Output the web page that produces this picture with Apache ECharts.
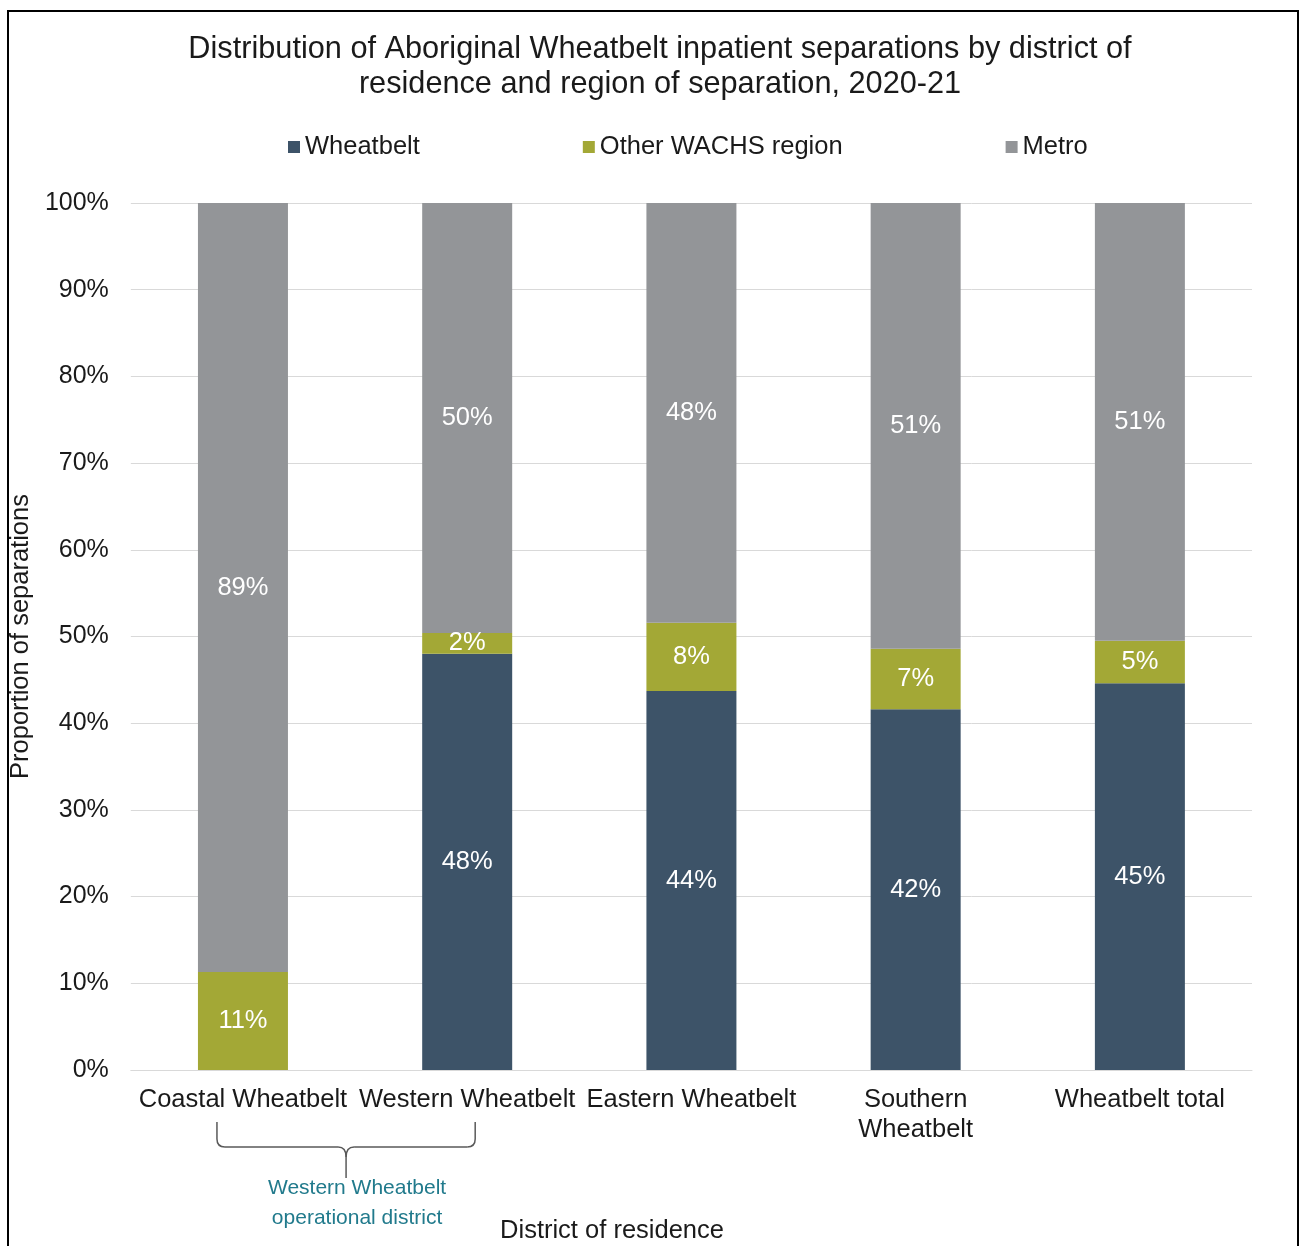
<!DOCTYPE html>
<html>
<head>
<meta charset="utf-8">
<script src="https://cdn.jsdelivr.net/npm/echarts@6/dist/echarts.min.js"></script>
<style>
  html, body { margin: 0; padding: 0; background: #fff; }
  #chart { width: 1305px; height: 1246px; }
</style>
</head>
<body>
<div id="chart"></div>
<script>
// district of residence
var categories = ['Coastal Wheatbelt', 'Western Wheatbelt', 'Eastern Wheatbelt', 'Southern\nWheatbelt', 'Wheatbelt total'];
// share of separations (%) by region of separation
var wheatbelt = [0, 48.0, 43.7, 41.6, 44.6];
var otherWachs = [11.3, 2.4, 7.9, 7.0, 4.9];
var metro = [88.7, 49.6, 48.4, 51.4, 50.5];
var yTicks = [0, 10, 20, 30, 40, 50, 60, 70, 80, 90, 100];

var font = 'Liberation Sans, Arial, sans-serif';
var fs = 25.5;

var chart = echarts.init(document.getElementById('chart'));

function seg(name, data, color) {
  return {
    name: name,
    type: 'bar',
    stack: 'total',
    barWidth: 90,
    data: data,
    itemStyle: { color: color },
    label: {
      show: true,
      position: 'inside',
      color: '#fff',
      fontFamily: font,
      fontSize: fs,
      formatter: function (p) {
        return p.value > 0 ? Math.round(p.value) + '%' : '';
      }
    }
  };
}

var option = {
  animation: false,
  title: {
    text: 'Distribution of Aboriginal Wheatbelt inpatient separations by district of\nresidence and region of separation, 2020-21',
    left: 655,
    textAlign: 'center',
    top: 27,
    textStyle: { fontFamily: font, fontSize: 30.7, fontWeight: 'normal', color: '#1a1a1a', lineHeight: 35 }
  },
  legend: {
    left: 283,
    top: 129,
    itemWidth: 12,
    itemHeight: 12,
    itemGap: 163,
    icon: 'rect',
    textStyle: { fontFamily: font, fontSize: fs, color: '#1a1a1a' },
    data: ['Wheatbelt', 'Other WACHS region', 'Metro']
  },
  grid: { left: 130, right: 53, top: 203, bottom: 176 },
  xAxis: {
    type: 'category',
    data: categories,
    axisTick: { show: false },
    axisLine: { lineStyle: { color: '#d9d9d9' } },
    axisLabel: { fontFamily: font, fontSize: fs, color: '#1a1a1a', margin: 15, lineHeight: 30, interval: 0 }
  },
  yAxis: {
    type: 'value',
    min: yTicks[0],
    max: yTicks[yTicks.length - 1],
    interval: 10,
    name: 'Proportion of separations',
    nameLocation: 'middle',
    nameRotate: 90,
    nameGap: 96,
    nameTextStyle: { fontFamily: font, fontSize: fs, color: '#1a1a1a' },
    axisLabel: { fontFamily: font, fontSize: 25, color: '#1a1a1a', margin: 22, formatter: '{value}%' },
    splitLine: { lineStyle: { color: '#d9d9d9' } }
  },
  series: [
    seg('Wheatbelt', wheatbelt, '#3d5368'),
    seg('Other WACHS region', otherWachs, '#a3a836'),
    seg('Metro', metro, '#939598')
  ]
};

chart.setOption(option);

// brace under the first two districts
var x0 = chart.convertToPixel({ xAxisIndex: 0 }, 0);
var x1 = chart.convertToPixel({ xAxisIndex: 0 }, 1);
var bl = x0 - 26, br = x1 + 8, mid = (bl + br) / 2;
var yt = 1122, yh = 1147, yp = 1178, r = 8;
var braceStyle = { fill: 'none', stroke: '#595959', lineWidth: 1.5 };

function ln(xa, ya, xb, yb) {
  return { type: 'line', shape: { x1: xa, y1: ya, x2: xb, y2: yb }, style: braceStyle, silent: true };
}
function qc(xa, ya, cx, cy, xb, yb) {
  return { type: 'bezierCurve', shape: { x1: xa, y1: ya, cpx1: cx, cpy1: cy, x2: xb, y2: yb }, style: braceStyle, silent: true };
}

var graphics = [
  {
    type: 'rect',
    shape: { x: 8, y: 11, width: 1290, height: 1260 },
    style: { fill: 'none', stroke: '#000', lineWidth: 2 },
    silent: true
  },
  ln(bl, yt, bl, yh - r),
  qc(bl, yh - r, bl, yh, bl + r, yh),
  ln(bl + r, yh, mid - r, yh),
  qc(mid - r, yh, mid, yh, mid, yh + 10),
  ln(mid, yh + 10, mid, yp),
  qc(mid, yh + 10, mid, yh, mid + r, yh),
  ln(mid + r, yh, br - r, yh),
  qc(br - r, yh, br, yh, br, yh - r),
  ln(br, yh - r, br, yt),
  {
    type: 'text',
    x: mid + 11,
    y: 1173,
    style: {
      text: 'Western Wheatbelt\noperational district',
      fontFamily: font,
      fontSize: 21,
      lineHeight: 30,
      fill: '#217a8c',
      align: 'center'
    }
  },
  {
    type: 'text',
    x: 612,
    y: 1218,
    style: {
      text: 'District of residence',
      fontFamily: font,
      fontSize: fs,
      fill: '#1a1a1a',
      align: 'center'
    }
  }
];

chart.setOption({ graphic: graphics });
</script>
</body>
</html>
